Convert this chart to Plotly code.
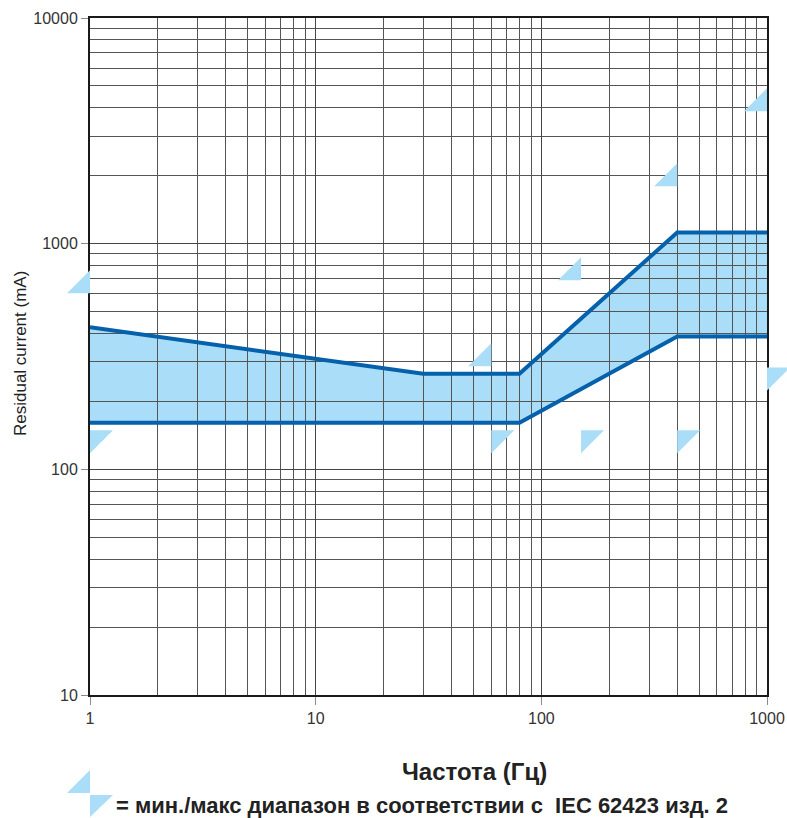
import plotly.graph_objects as go

# ---- data ----
freq_band = [1, 30, 80, 400, 1000]          # Hz
upper_mA = [426, 265, 265, 1120, 1120]      # upper band boundary
lower_mA = [161, 161, 161, 388, 388]        # lower band boundary

marker_freq = [1, 60, 150, 400, 1000]       # IEC 62423 limit frequencies
max_mA = [603, 286, 688, 1795, 3860]        # max limit markers
min_mA = [149, 149, 149, 149, 283]          # min limit markers

x_ticks = [1, 10, 100, 1000]
x_ticktext = ["1", "10", "100", "1000"]
y_ticks = [10, 100, 1000, 10000]
y_ticktext = ["10", "100", "1000", "10000"]
minor_digits = [2, 3, 4, 5, 6, 7, 8, 9]

# ---- styling / geometry (pixels) ----
W, H = 787, 818
PL, PR, PT, PB = 90, 767, 18, 695           # plot area in figure pixels
X_RANGE = [0, 3]
Y_RANGE = [1, 4]
PPD = (PR - PL) / (X_RANGE[1] - X_RANGE[0])  # pixels per decade
FILL = "#AADDF7"
LINE = "#0561AB"
TRI_PX = 23                                  # leg length of the limit triangles
k = 10 ** (TRI_PX / PPD)

x_minor = [d * 10 ** e for e in range(0, 3) for d in minor_digits]
y_minor = [d * 10 ** e for e in range(1, 4) for d in minor_digits]

xdom = [PL / W, PR / W]
ydom = [1 - PB / H, 1 - PT / H]
# overlay axes spanning the full figure, same scale, for unclipped triangles
x3_range = [X_RANGE[0] - PL / PPD, X_RANGE[0] + (W - PL) / PPD]
y3_range = [Y_RANGE[1] - (H - PT) / PPD, Y_RANGE[1] + PT / PPD]

fig = go.Figure()

# band fill on the bottom subplot (below the grid)
fig.add_trace(go.Scatter(x=freq_band, y=lower_mA, mode="lines", line=dict(width=0),
                         hoverinfo="skip", showlegend=False, xaxis="x", yaxis="y"))
fig.add_trace(go.Scatter(x=freq_band, y=upper_mA, mode="lines", line=dict(width=0),
                         fill="tonexty", fillcolor=FILL, hoverinfo="skip",
                         showlegend=False, xaxis="x", yaxis="y"))

# boundary lines above the grid
fig.add_trace(go.Scatter(x=freq_band, y=upper_mA, mode="lines",
                         line=dict(color=LINE, width=4), showlegend=False,
                         xaxis="x2", yaxis="y2"))
fig.add_trace(go.Scatter(x=freq_band, y=lower_mA, mode="lines",
                         line=dict(color=LINE, width=4), showlegend=False,
                         xaxis="x2", yaxis="y2"))

# limit triangles: right-angle corner sits at the limit value
tx, ty = [], []
for f, v in zip(marker_freq, max_mA):      # corner bottom-right
    tx += [f / k, f, f, f / k, None]
    ty += [v, v, v * k, v, None]
for f, v in zip(marker_freq, min_mA):      # corner top-left
    tx += [f, f * k, f, f, None]
    ty += [v, v, v / k, v, None]
fig.add_trace(go.Scatter(x=tx, y=ty, mode="lines", fill="toself", fillcolor=FILL,
                         line=dict(width=0, color=FILL), hoverinfo="skip",
                         showlegend=False, xaxis="x3", yaxis="y3"))

FONT = "Liberation Sans, Arial, Helvetica, sans-serif"
tickfont = dict(family=FONT, size=16, color="#333333")

axis_common = dict(type="log", automargin=False, fixedrange=True, zeroline=False)
main_axis = dict(showgrid=True, gridcolor="#454545", gridwidth=1,
                 ticks="outside", tickwidth=1, tickcolor="#8a8a8a",
                 tickfont=tickfont, showline=True, linecolor="#1a1a1a",
                 linewidth=2, mirror=True, tickmode="array")

fig.update_layout(
    width=W, height=H,
    margin=dict(l=0, r=0, t=0, b=0, pad=0),
    paper_bgcolor="white", plot_bgcolor="rgba(0,0,0,0)",
    font=dict(family=FONT, color="#222222"),
    xaxis=dict(range=X_RANGE, visible=False, domain=xdom, anchor="y", **axis_common),
    yaxis=dict(range=Y_RANGE, visible=False, domain=ydom, anchor="x", **axis_common),
    xaxis2=dict(range=X_RANGE, domain=xdom, anchor="y2", tickvals=x_ticks,
                ticktext=x_ticktext, ticklen=8,
                minor=dict(tickmode="array", tickvals=x_minor, showgrid=True,
                           gridcolor="#555555", gridwidth=1, ticks=""),
                **main_axis, **axis_common),
    yaxis2=dict(range=Y_RANGE, domain=ydom, anchor="x2", tickvals=y_ticks,
                ticktext=y_ticktext, ticklen=7,
                minor=dict(tickmode="array", tickvals=y_minor, showgrid=True,
                           gridcolor="#555555", gridwidth=1, ticks=""),
                **main_axis, **axis_common),
    xaxis3=dict(range=x3_range, domain=[0, 1], anchor="y3", visible=False,
                showgrid=False, **axis_common),
    yaxis3=dict(range=y3_range, domain=[0, 1], anchor="x3", visible=False,
                showgrid=False, **axis_common),
)

def pxp(x):
    return x / W

def pyp(y):
    return 1 - y / H

# legend triangles (paper coordinates, given in pixels)
tri_up = [(67, 793), (90, 793), (90, 770)]
tri_dn = [(90, 795), (113, 795), (90, 817)]
for tri in (tri_up, tri_dn):
    path = "M " + " L ".join(f"{pxp(a):.5f} {pyp(b):.5f}" for a, b in tri) + " Z"
    fig.add_shape(type="path", path=path, xref="paper", yref="paper",
                  fillcolor=FILL, line=dict(width=0), layer="above")

fig.add_annotation(text="Residual current (mA)", textangle=-90,
                   x=pxp(20), y=pyp(354), xref="paper", yref="paper",
                   xanchor="center", yanchor="middle", showarrow=False,
                   font=dict(family=FONT, size=17, color="#222222"))
fig.add_annotation(text="<b>Частота (Гц)</b>",
                   x=pxp(474), y=pyp(771), xref="paper", yref="paper",
                   xanchor="center", yanchor="middle", showarrow=False,
                   font=dict(family=FONT, size=24, color="#222222"))
fig.add_annotation(text="<b>= мин./макс диапазон в соответствии с  IEC 62423 изд. 2</b>",
                   x=pxp(114), y=pyp(805), xref="paper", yref="paper",
                   xanchor="left", yanchor="middle", showarrow=False,
                   font=dict(family=FONT, size=22, color="#222222"))

# remove the default 8px page margin so the figure fills the window exactly
fig.write_html("out.html", config={"displayModeBar": False},
               post_script="document.body.style.margin='0px';")
